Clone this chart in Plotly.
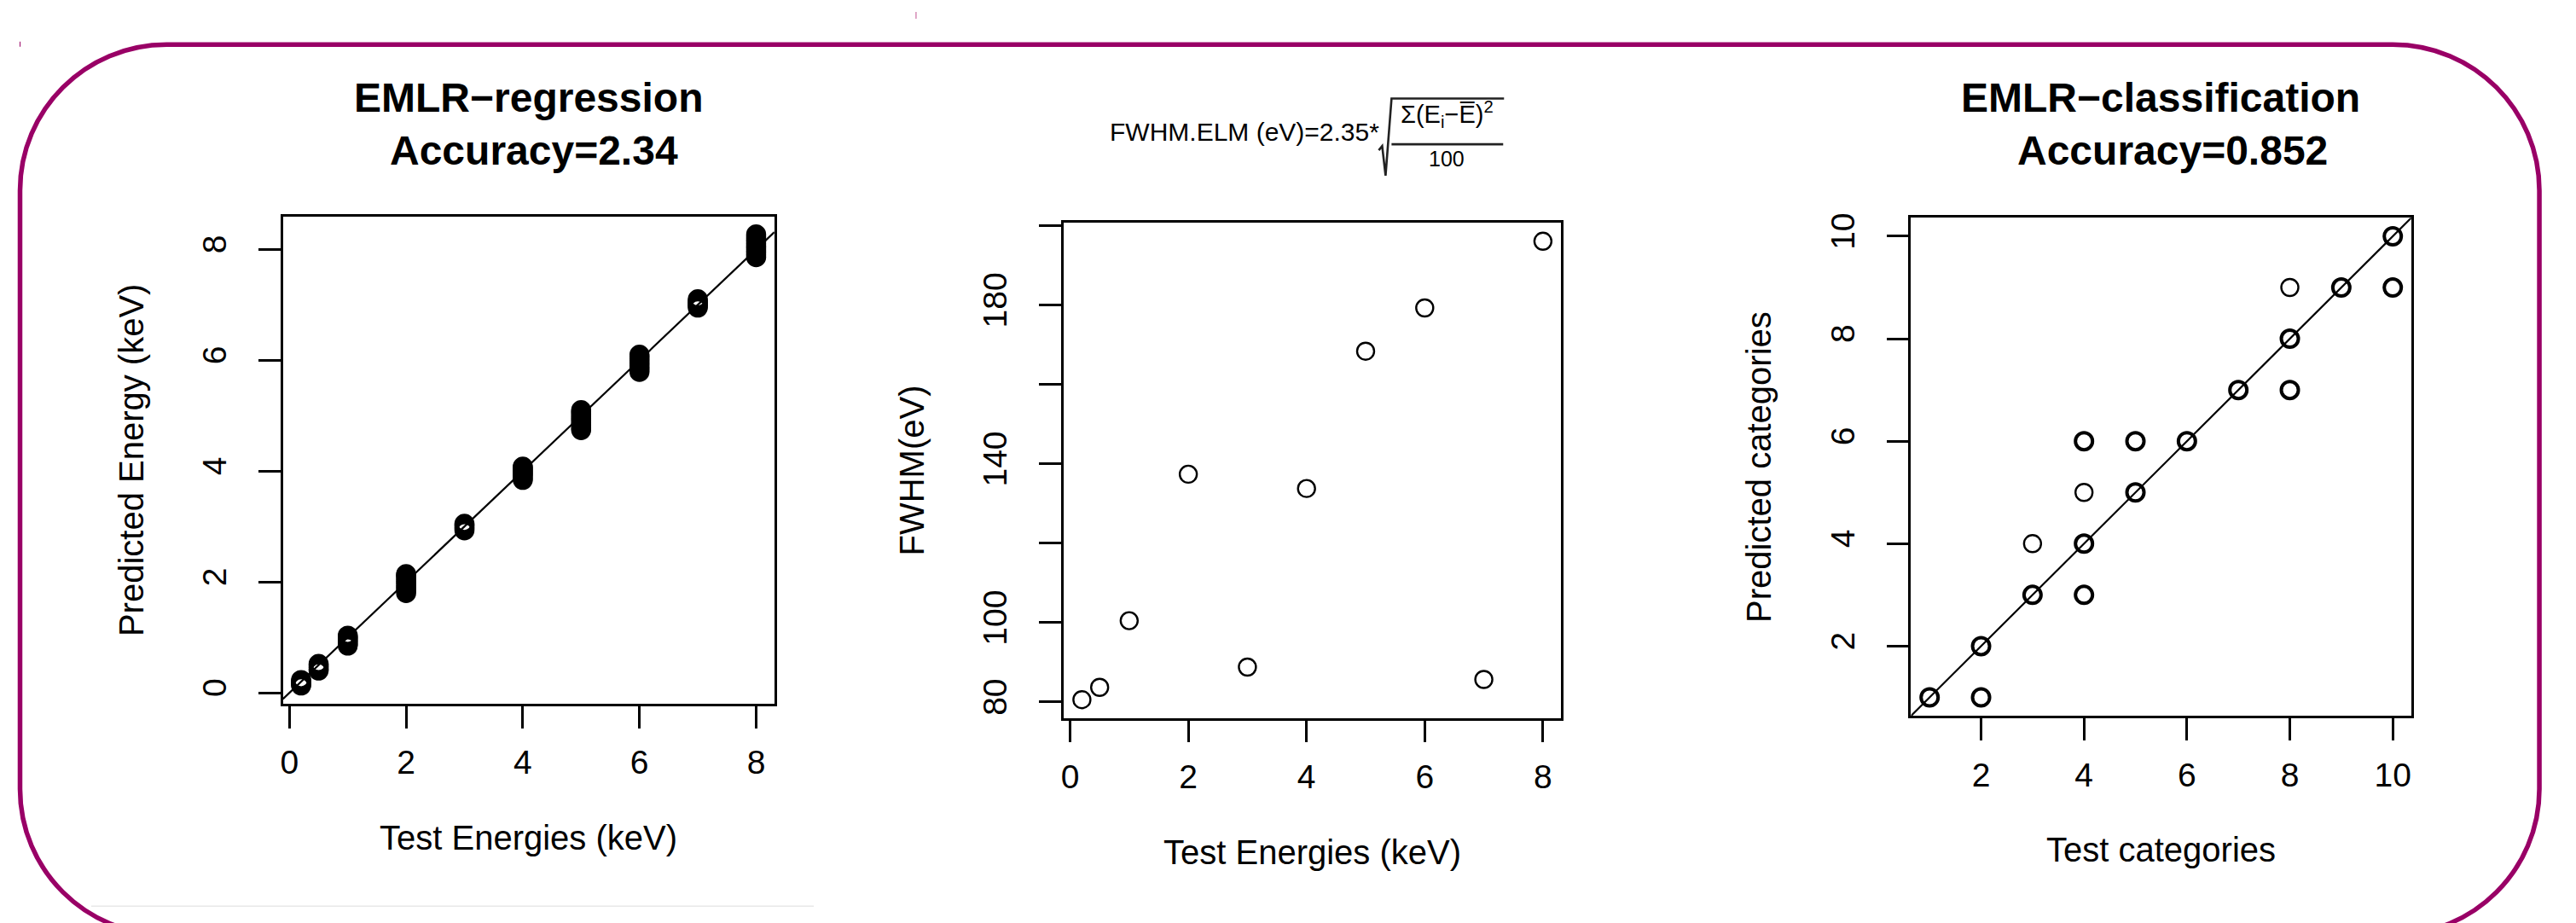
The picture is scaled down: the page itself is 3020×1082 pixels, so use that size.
import plotly.graph_objects as go

W, H = 3020, 1082

# ---------------- data ----------------
# Panel 1: EMLR regression, predicted vs test energy (keV)
test_energy = [0.2, 0.5, 1, 2, 3, 4, 5, 6, 7, 8]
pred_e02 = [0.13, 0.15, 0.17, 0.19, 0.21, 0.23]
pred_e05 = [0.40, 0.42, 0.45, 0.47, 0.50, 0.52]
pred_e1 = [0.85, 0.88, 0.91, 0.94, 0.97, 1.00, 1.03]
pred_e2 = [1.80, 1.85, 1.89, 1.93, 1.97, 2.01, 2.05, 2.09, 2.12, 2.14]
pred_e3 = [2.93, 2.96, 2.98, 3.01, 3.03, 3.05]
pred_e4 = [3.84, 3.87, 3.91, 3.94, 3.97, 4.00, 4.03, 4.06, 4.08]
pred_e5 = [4.74, 4.78, 4.83, 4.87, 4.91, 4.95, 4.99, 5.03, 5.07, 5.10]
pred_e6 = [5.79, 5.83, 5.87, 5.91, 5.95, 5.99, 6.03, 6.07, 6.10]
pred_e7 = [6.95, 6.98, 7.01, 7.04, 7.07, 7.10]
pred_e8 = [7.86, 7.90, 7.94, 7.98, 8.02, 8.06, 8.10, 8.14, 8.18, 8.22, 8.27]
pred_groups = [pred_e02, pred_e05, pred_e1, pred_e2, pred_e3,
               pred_e4, pred_e5, pred_e6, pred_e7, pred_e8]

# Panel 2: FWHM (eV) per test energy
fwhm_energy = [0.2, 0.5, 1, 2, 3, 4, 5, 6, 7, 8]
fwhm_ev = [80.6, 83.7, 100.5, 137.4, 88.8, 133.8, 168.4, 179.3, 85.7, 196.1]

# Panel 3: EMLR classification
test_cat = [1, 2, 2, 3, 3, 4, 4, 4, 4, 5, 5, 6, 7, 8, 8, 8, 9, 10, 10]
pred_cat = [1, 1, 2, 3, 4, 3, 4, 5, 6, 5, 6, 6, 7, 7, 8, 9, 9, 9, 10]
cat_count = [10, 3, 8, 9, 1, 3, 6, 1, 3, 8, 3, 10, 10, 2, 7, 1, 10, 2, 8]

# tick labels
ticks_energy = [0, 2, 4, 6, 8]
ticks_fwhm = [80, 100, 140, 180]       # labelled ticks
fwhm_tick_step = 20                     # unlabelled ticks every 20 eV
ticks_cat = [2, 4, 6, 8, 10]

# ---------------- helpers ----------------
FONT = "Liberation Sans, Arial, Helvetica, sans-serif"
BORDER = "#990066"
TXT_DY = 12   # annotation boxes sit slightly low relative to cap centre


def px(x):
    return x / W


def py(y):
    return 1 - y / H


def rrange(vals):
    lo, hi = min(vals), max(vals)
    d = (hi - lo) * 0.04
    return [lo - d, hi + d]


# plot boxes in pixels (left, top, right, bottom)
boxes = [(321, 241, 897.7, 815.3),
         (1237, 248.7, 1821.3, 832.3),
         (2231.7, 242.7, 2818.7, 829.7)]

x1, y1 = [], []
for e, grp in zip(test_energy, pred_groups):
    x1 += [e] * len(grp)
    y1 += grp

xr1, yr1 = rrange(x1), rrange(y1)
xr2, yr2 = rrange(fwhm_energy), rrange(fwhm_ev)
xr3, yr3 = rrange(test_cat), rrange(pred_cat)

fig = go.Figure()

fig.add_trace(go.Scatter(x=x1, y=y1, mode="markers",
                         marker=dict(symbol="circle-open", size=19, color="black",
                                     line=dict(width=4.5)),
                         xaxis="x", yaxis="y", showlegend=False, hoverinfo="skip"))
fig.add_trace(go.Scatter(x=xr1, y=xr1, mode="lines",
                         line=dict(color="black", width=2.2),
                         xaxis="x", yaxis="y", showlegend=False, hoverinfo="skip"))

fig.add_trace(go.Scatter(x=fwhm_energy, y=fwhm_ev, mode="markers",
                         marker=dict(symbol="circle-open", size=20, color="black",
                                     line=dict(width=2.4)),
                         xaxis="x2", yaxis="y2", showlegend=False, hoverinfo="skip"))

cat_lw = [2.4 if c == 1 else 4.0 for c in cat_count]
fig.add_trace(go.Scatter(x=test_cat, y=pred_cat, mode="markers",
                         marker=dict(symbol="circle-open", size=20, color="black",
                                     line=dict(width=cat_lw)),
                         xaxis="x3", yaxis="y3", showlegend=False, hoverinfo="skip"))
fig.add_trace(go.Scatter(x=xr3, y=xr3, mode="lines",
                         line=dict(color="black", width=2.2),
                         xaxis="x3", yaxis="y3", showlegend=False, hoverinfo="skip"))


def axis(dom, rng, tickvals, is_y=False, anchor=None, minor_step=None):
    d = dict(domain=dom, range=rng, showline=True, mirror=True,
             linecolor="black", linewidth=2.5, ticks="outside", ticklen=26,
             tickwidth=2.5, tickcolor="black", showgrid=False, zeroline=False,
             tickmode="array", tickvals=tickvals,
             tickfont=dict(family=FONT, size=39, color="black"),
             fixedrange=True, anchor=anchor,
             ticklabelstandoff=22 if is_y else 7)
    if is_y:
        d["tickangle"] = -90
    if minor_step is not None:
        d["minor"] = dict(ticks="outside", ticklen=26, tickwidth=2.5,
                          tickcolor="black", dtick=minor_step, tick0=0,
                          showgrid=False)
    return d


layout_axes = {}
specs = [(xr1, yr1, ticks_energy, ticks_energy, None),
         (xr2, yr2, ticks_energy, ticks_fwhm, fwhm_tick_step),
         (xr3, yr3, ticks_cat, ticks_cat, None)]
for i, ((l, t, r, b), (xr, yr, xt, yt, ms)) in enumerate(zip(boxes, specs), start=1):
    sx = "" if i == 1 else str(i)
    layout_axes["xaxis" + sx] = axis([px(l), px(r)], xr, xt, anchor="y" + sx)
    layout_axes["yaxis" + sx] = axis([py(b), py(t)], yr, yt, is_y=True,
                                     anchor="x" + sx, minor_step=ms)

annotations = []


def text(x, y, s, size, bold=False, angle=0, xanchor="center"):
    if angle == 0:
        y = y - TXT_DY
    else:
        x = x - TXT_DY
    annotations.append(dict(
        x=px(x), y=py(y), xref="paper", yref="paper", showarrow=False,
        text=("<b>%s</b>" % s) if bold else s, textangle=angle,
        xanchor=xanchor, yanchor="middle",
        font=dict(family=FONT, size=size, color="black")))


# panel titles
text(609.5, 113, "EMLR\u2212regression", 48, bold=True)
text(616, 175, "Accuracy=2.34", 48, bold=True)
text(2525, 113, "EMLR\u2212classification", 48, bold=True)
text(2539, 175, "Accuracy=0.852", 48, bold=True)

# formula title (panel 2)
text(1610, 153, "FWHM.ELM (eV)=2.35*", 30, xanchor="right")
text(1687, 133, "\u03a3(E<sub>i</sub>\u2212E\u0305)<sup>2</sup>", 29)
text(1687, 185, "100", 25)

# axis titles
xlabels = ["Test Energies (keV)", "Test Energies (keV)", "Test categories"]
ylabels = ["Predicted Energy (keV)", "FWHM(eV)", "Predicted categories"]
for (l, t, r, b), xl, yl in zip(boxes, xlabels, ylabels):
    text((l + r) / 2, b + 170, xl, 40)
    text(l - 166, (t + b) / 2, yl, 40, angle=-90)

# decorative shapes
shapes = []

L, R, T, B, rad = 12.5, 2969, 38.5, 1088, 172
k = 0.5523 * rad


def P(x, y):
    return "%f,%f" % (px(x), py(y))


border_path = ("M " + P(L, T + rad) +
               " C " + P(L, T + rad - k) + " " + P(L + rad - k, T) + " " + P(L + rad, T) +
               " L " + P(R - rad, T) +
               " C " + P(R - rad + k, T) + " " + P(R, T + rad - k) + " " + P(R, T + rad) +
               " L " + P(R, B - rad) +
               " C " + P(R, B - rad + k) + " " + P(R - rad + k, B) + " " + P(R - rad, B) +
               " L " + P(L + rad, B) +
               " C " + P(L + rad - k, B) + " " + P(L, B - rad + k) + " " + P(L, B - rad) +
               " Z")
shapes.append(dict(type="path", xref="paper", yref="paper", path=border_path,
                   line=dict(color=BORDER, width=5.5), layer="above"))

# radical sign and fraction bar
rad_path = ("M " + P(1607, 163) + " L " + P(1611, 158) + " L " + P(1615, 193) +
            " L " + P(1622, 102) + " L " + P(1754, 102))
shapes.append(dict(type="path", xref="paper", yref="paper", path=rad_path,
                   line=dict(color="#222222", width=2.6)))
shapes.append(dict(type="line", xref="paper", yref="paper",
                   x0=px(1622), x1=px(1753), y0=py(156), y1=py(156),
                   line=dict(color="#222222", width=2.6)))

# faint separator and tiny marks
shapes.append(dict(type="line", xref="paper", yref="paper",
                   x0=px(96), x1=px(944), y0=py(1054), y1=py(1054),
                   line=dict(color="#e8e8e8", width=1.5)))
shapes.append(dict(type="line", xref="paper", yref="paper",
                   x0=px(12.5), x1=px(12.5), y0=py(35), y1=py(41),
                   line=dict(color=BORDER, width=1)))
shapes.append(dict(type="line", xref="paper", yref="paper",
                   x0=px(1064), x1=px(1064), y0=py(0), y1=py(8),
                   line=dict(color="#c05090", width=1)))

fig.update_layout(
    width=W, height=H, margin=dict(l=0, r=0, t=0, b=0),
    paper_bgcolor="white", plot_bgcolor="white",
    annotations=annotations, shapes=shapes, showlegend=False,
    **layout_axes)

fig.write_html("out.html")
